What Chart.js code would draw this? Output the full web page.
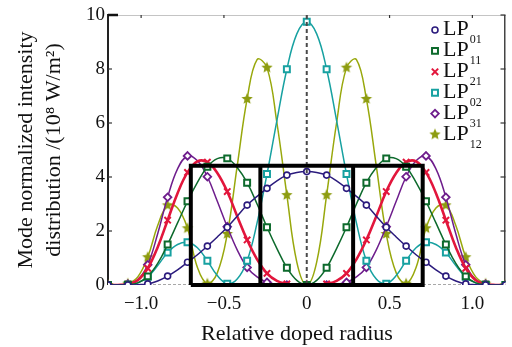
<!DOCTYPE html>
<html><head><meta charset="utf-8">
<script src="https://cdn.jsdelivr.net/npm/chart.js@4/dist/chart.umd.min.js"></script>
<style>html,body{margin:0;padding:0;background:#fff}#wrap{width:512px;height:347px;position:relative}</style>
</head><body><div id="wrap"><canvas id="c" width="512" height="347"></canvas></div>
<script>
// ---- data ----
const radius = [-1.2,-1.14,-1.08,-1.02,-0.96,-0.9,-0.84,-0.78,-0.72,-0.66,-0.6,-0.54,-0.48,-0.42,-0.36,-0.3,-0.24,-0.18,-0.12,-0.06,0,0.06,0.12,0.18,0.24,0.3,0.36,0.42,0.48,0.54,0.6,0.66,0.72,0.78,0.84,0.9,0.96,1.02,1.08,1.14,1.2];
const lp01 = [0,0,0,0.01,0.04,0.15,0.33,0.56,0.84,1.12,1.44,1.78,2.14,2.55,2.96,3.28,3.58,3.86,4.07,4.17,4.2,4.17,4.07,3.86,3.58,3.28,2.96,2.55,2.14,1.78,1.44,1.12,0.84,0.56,0.33,0.15,0.04,0.01,0,0,0];
const lp11 = [0,0,0.01,0.08,0.32,0.8,1.5,2.3,3.1,3.8,4.38,4.68,4.69,4.35,3.79,3.0,2.14,1.35,0.64,0.17,0,0.17,0.64,1.35,2.14,3.0,3.79,4.35,4.69,4.68,4.38,3.8,3.1,2.3,1.5,0.8,0.32,0.08,0.01,0,0];
const lp21 = [0,0,0.03,0.18,0.62,1.4,2.4,3.4,4.17,4.58,4.55,4.15,3.46,2.55,1.67,0.95,0.43,0.15,0.04,0,0,0,0.04,0.15,0.43,0.95,1.67,2.55,3.46,4.15,4.55,4.58,4.17,3.4,2.4,1.4,0.62,0.18,0.03,0,0];
const lp02 = [0,0,0.01,0.08,0.3,0.72,1.2,1.5,1.58,1.38,0.9,0.35,0.05,0.22,0.9,2.3,4.11,6.1,7.99,9.3,9.75,9.3,7.99,6.1,4.11,2.3,0.9,0.22,0.05,0.35,0.9,1.38,1.58,1.5,1.2,0.72,0.3,0.08,0.01,0,0];
const lp31 = [0,0,0.03,0.2,0.75,1.9,3.25,4.3,4.78,4.6,4.01,3.1,2.16,1.3,0.65,0.3,0.1,0.02,0,0,0,0,0,0.02,0.1,0.3,0.65,1.3,2.16,3.1,4.01,4.6,4.78,4.3,3.25,1.9,0.75,0.2,0.03,0,0];
const lp12 = [0,0,0.05,0.3,1.03,2.2,2.95,2.85,2.1,0.65,0.05,0.45,1.89,4.4,6.89,8.35,8.05,6.0,3.33,0.85,0,0.85,3.33,6.0,8.05,8.35,6.89,4.4,1.89,0.45,0.05,0.65,2.1,2.85,2.95,2.2,1.03,0.3,0.05,0,0];
const modeNames = [['LP','01'],['LP','11'],['LP','21'],['LP','02'],['LP','31'],['LP','12']];
// doped-region frame
const boxX = [-0.7,-0.7,0.7,0.7,-0.7];
const boxY = [0,4.42,4.42,0,0];
const dividerX = [-0.28,0.28];
const dividerY = [0,4.42];
const centerLineY = [0,10];
const xTickValues = [-1.0,-0.5,0,0.5,1.0];
const xTickLabels = ['\u22121.0','\u22120.5','0','0.5','1.0'];
const yTickValues = [0,2,4,6,8,10];
const yTickLabels = ['0','2','4','6','8','10'];
const xTitle = 'Relative doped radius';
const yTitle = ['Mode normalized intensity','distribution /(10\u2078 W/m\u00b2)'];

const SERIF = '"Liberation Serif","Times New Roman",serif';
const colors = ['#2b1b7d','#0d6a2c','#e2163c','#17a1a1','#6e1d8c','#98a80c'];

function makeStar(color, R){
  const s = Math.ceil(R*2+2);
  const c = document.createElement('canvas'); c.width=s; c.height=s;
  const g = c.getContext('2d'); g.fillStyle=color; g.beginPath();
  for(let i=0;i<10;i++){const r=i%2?R*0.45:R;const a=-Math.PI/2+i*Math.PI/5;const px=s/2+r*Math.cos(a),py=s/2+r*Math.sin(a);if(i)g.lineTo(px,py);else g.moveTo(px,py);}
  g.closePath(); g.fill(); return c;
}
const starImg = makeStar('#8d9c10', 6);

const styles = [
  {ps:'circle', r:3, bw:1.6, bg:'#fff'},
  {ps:'rect', r:4.2, bw:2, bg:'#fff'},
  {ps:'crossRot', r:4.5, bw:2, bg:'#fff'},
  {ps:'rect', r:4.2, bw:2, bg:'#fff'},
  {ps:'rectRot', r:3.8, bw:1.8, bg:'#fff'},
  {ps:starImg, r:6, bw:0, bg:colors[5]},
];
const seriesVals = [lp01,lp11,lp21,lp02,lp31,lp12];

const toXY = (xs, ys) => xs.map((x,i)=>({x:x,y:ys[i]}));

const datasets = seriesVals.map((vals,k)=>({
  label: modeNames[k].join(''),
  data: toXY(radius, vals),
  borderColor: colors[k],
  borderWidth: k===2 ? 2.6 : 1.5,
  tension: 0.4,
  pointStyle: styles[k].ps,
  pointRadius: ctx => ctx.dataIndex % 2 === 0 ? styles[k].r : 0,
  pointHoverRadius: ctx => ctx.dataIndex % 2 === 0 ? styles[k].r : 0,
  pointBorderWidth: styles[k].bw,
  pointBorderColor: colors[k],
  pointBackgroundColor: styles[k].bg,
  order: 1
}));
datasets.push({label:'box', data: toXY(boxX, boxY), borderColor:'#000', borderWidth:4, pointRadius:0, tension:0, clip:false, order:-1, borderJoinStyle:'miter'});
dividerX.forEach(dx=>datasets.push({label:'div', data: toXY([dx,dx], dividerY), borderColor:'#000', borderWidth:4, pointRadius:0, tension:0, clip:false, order:-1}));
datasets.push({label:'center', data: toXY([0,0], centerLineY), borderColor:'#4a4a4a', borderWidth:2, borderDash:[4,3], pointRadius:0, tension:0, order:0});

const framePlugin = {
  id:'frame',
  beforeDatasetsDraw(chart){
    const {ctx, chartArea:a, scales:{x,y}} = chart;
    ctx.save();
    ctx.lineCap='butt';
    ctx.strokeStyle='#c4c4c4'; ctx.lineWidth=1;
    ctx.beginPath(); ctx.moveTo(a.left, a.top+0.5); ctx.lineTo(a.right, a.top+0.5); ctx.stroke();
    ctx.setLineDash([3,2]); ctx.strokeStyle='#a8a8a8';
    ctx.beginPath(); ctx.moveTo(a.left, a.bottom-0.5); ctx.lineTo(a.right, a.bottom-0.5); ctx.stroke();
    ctx.setLineDash([]);
    ctx.strokeStyle='#444'; ctx.lineWidth=1.5;
    ctx.beginPath(); ctx.moveTo(a.right-0.75, a.top); ctx.lineTo(a.right-0.75, a.bottom); ctx.stroke();
    ctx.strokeStyle='#222'; ctx.lineWidth=2;
    ctx.beginPath(); ctx.moveTo(a.left, a.top-1); ctx.lineTo(a.left, a.bottom); ctx.stroke();
    yTickValues.forEach(v=>{
      const py = y.getPixelForValue(v);
      if (v===10){ ctx.lineWidth=2.5; ctx.strokeStyle='#111'; ctx.beginPath(); ctx.moveTo(a.left, py); ctx.lineTo(a.left+10, py); ctx.stroke(); }
      else if (v>0){ ctx.lineWidth=1.2; ctx.strokeStyle='#333'; ctx.beginPath(); ctx.moveTo(a.left, py); ctx.lineTo(a.left+4, py); ctx.stroke(); }
      if (v>0){ ctx.lineWidth=1.2; ctx.strokeStyle='#333'; ctx.beginPath(); ctx.moveTo(a.right, py); ctx.lineTo(a.right-5, py); ctx.stroke(); }
    });
    xTickValues.forEach(v=>{
      const px = x.getPixelForValue(v);
      ctx.lineWidth=1.2; ctx.strokeStyle='#333';
      ctx.beginPath(); ctx.moveTo(px, a.top); ctx.lineTo(px, a.top+3); ctx.stroke();
    });
    ctx.restore();
  }
};

function drawMarker(ctx, k, cx, cy){
  const st = styles[k];
  ctx.save();
  if (typeof st.ps !== 'string'){ ctx.drawImage(st.ps, cx - st.ps.width/2, cy - st.ps.height/2); ctx.restore(); return; }
  ctx.strokeStyle = colors[k]; ctx.fillStyle = st.bg; ctx.lineWidth = st.bw;
  ctx.beginPath();
  const r = st.r;
  if (st.ps==='circle'){ ctx.arc(cx,cy,r,0,Math.PI*2); ctx.fill(); ctx.stroke(); }
  else if (st.ps==='rect'){ const s=r*Math.SQRT1_2; ctx.rect(cx-s,cy-s,2*s,2*s); ctx.fill(); ctx.stroke(); }
  else if (st.ps==='rectRot'){ ctx.moveTo(cx-r,cy); ctx.lineTo(cx,cy-r); ctx.lineTo(cx+r,cy); ctx.lineTo(cx,cy+r); ctx.closePath(); ctx.fill(); ctx.stroke(); }
  else if (st.ps==='crossRot'){ const s=r*Math.SQRT1_2; ctx.moveTo(cx-s,cy-s); ctx.lineTo(cx+s,cy+s); ctx.moveTo(cx+s,cy-s); ctx.lineTo(cx-s,cy+s); ctx.stroke(); }
  ctx.restore();
}

const textPlugin = {
  id:'modeLegend',
  afterDraw(chart){
    const ctx = chart.ctx;
    ctx.save();
    modeNames.forEach((nm,i)=>{
      const base = 35 + 20.9*i;
      drawMarker(ctx, i, 435, base-5);
      ctx.fillStyle='#111'; ctx.textBaseline='alphabetic'; ctx.textAlign='left';
      ctx.font = '22px '+SERIF;
      ctx.fillText(nm[0], 443, base);
      const w = ctx.measureText(nm[0]).width;
      ctx.font = '12px '+SERIF;
      ctx.fillText(nm[1], 443+w+1, base+8);
    });
    // x-axis title (centred as in the reference, slightly left of the plot centre)
    ctx.font = '22px '+SERIF; ctx.textAlign='center'; ctx.textBaseline='alphabetic'; ctx.fillStyle='#111';
    ctx.fillText(xTitle, 297, 340);
    ctx.restore();
  }
};

new Chart(document.getElementById('c'), {
  type:'line',
  data:{datasets},
  options:{
    responsive:false, animation:false, devicePixelRatio:1,
    layout:{padding:{top:15,right:4,left:0,bottom:0}},
    plugins:{legend:{display:false}, tooltip:{enabled:false}},
    elements:{line:{capBezierPoints:true}},
    scales:{
      x:{type:'linear', min:-1.2, max:1.2,
        grid:{display:false, drawTicks:false}, border:{display:false},
        afterBuildTicks: s => { s.ticks = xTickValues.map(v=>({value:v})); },
        afterFit: s => { s.height = 62; },
        ticks:{color:'#111', padding:8, maxRotation:0, autoSkip:false, font:{family:SERIF, size:19},
          callback:(v,i)=>xTickLabels[i]},
        title:{display:false}
      },
      y:{type:'linear', min:0, max:10,
        grid:{display:false, drawTicks:false}, border:{display:false},
        afterBuildTicks: s => { s.ticks = yTickValues.map(v=>({value:v})); },
        afterFit: s => { s.width = 108; },
        ticks:{color:'#111', padding:3, autoSkip:false, font:{family:SERIF, size:19},
          callback:(v,i)=>yTickLabels[i]},
        title:{display:true, text:yTitle, color:'#111', font:{family:SERIF, size:22, lineHeight:1.28}, padding:{top:12,bottom:0}}
      }
    }
  },
  plugins:[framePlugin, textPlugin]
});
</script>
</body></html>
